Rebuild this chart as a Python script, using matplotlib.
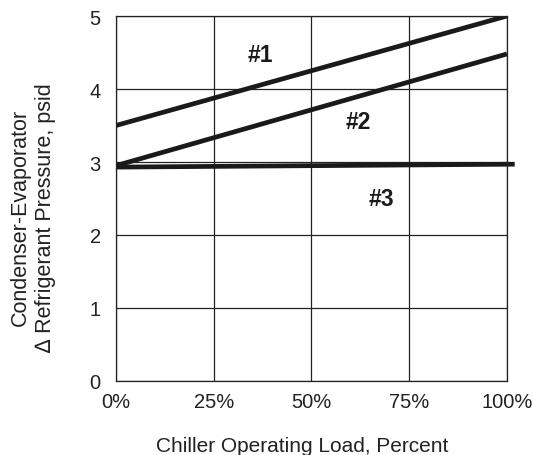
import matplotlib
matplotlib.use("Agg")
import matplotlib.pyplot as plt

plt.rcParams['font.family'] = ['Liberation Sans', 'DejaVu Sans']

load = [0, 100]
line1 = [3.5, 5.0]
line2 = [2.95, 4.48]
load3 = [0, 102]
line3 = [2.93, 2.97]

labels = ["#1", "#2", "#3"]
label_x = [37, 62, 68]
label_y = [4.47, 3.56, 2.5]

xticks = [0, 25, 50, 75, 100]
xticklabels = ["0%", "25%", "50%", "75%", "100%"]
yticks = [0, 1, 2, 3, 4, 5]

fig = plt.figure(figsize=(5.33, 4.56), dpi=100)
ax = fig.add_axes([0.2176, 0.1623, 0.951 - 0.2176, 0.9627 - 0.1623])

ax.set_xlim(0, 100)
ax.set_ylim(0, 5)
ax.set_xticks(xticks)
ax.set_xticklabels(xticklabels)
ax.set_yticks(yticks)
ax.grid(True, color='#222222', linewidth=0.9)
ax.set_axisbelow(True)
for s in ax.spines.values():
    s.set_linewidth(0.9)
    s.set_color('#222222')
ax.tick_params(length=0, labelsize=14.5, colors='#222222')
ax.tick_params(axis='x', pad=8)
ax.tick_params(axis='y', pad=11)

ax.plot(load, line1, color='#1a1a1a', linewidth=3.4, solid_capstyle='butt')
ax.plot(load, line2, color='#1a1a1a', linewidth=3.4, solid_capstyle='butt')
ax.plot(load3, line3, color='#1a1a1a', linewidth=3.4, solid_capstyle='butt', clip_on=False)

for t, x, y in zip(labels, label_x, label_y):
    ax.text(x, y, t, fontsize=16.5, fontweight='bold', ha='center', va='center', color='#1a1a1a')

ax.set_xlabel("Chiller Operating Load, Percent", fontsize=15, color='#222222')
ax.xaxis.set_label_coords(0.476, -0.15)
ax.set_ylabel("Condenser-Evaporator\n\u2206 Refrigerant Pressure, psid", fontsize=15.5,
              color='#222222', linespacing=1.25)
ax.yaxis.set_label_coords(-0.153, 0.45)

fig.savefig("out.png", dpi=100)
